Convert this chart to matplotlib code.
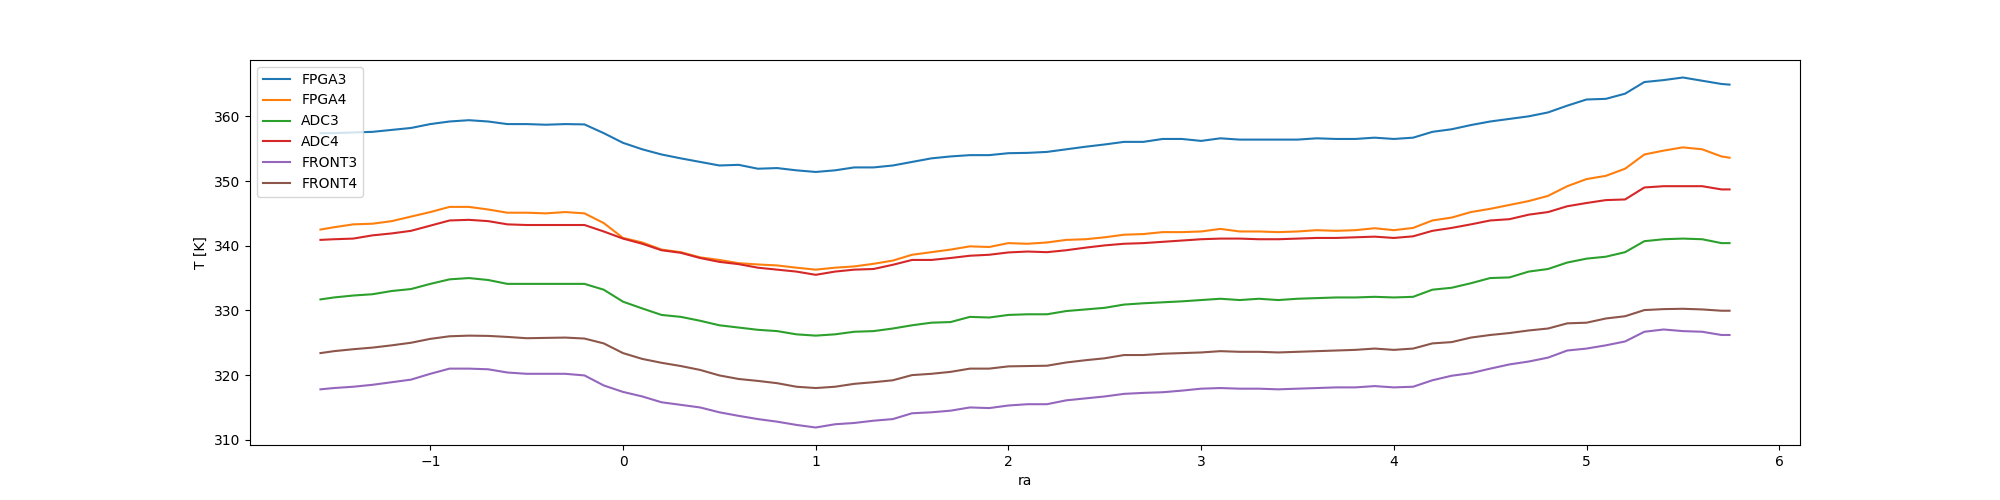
import numpy as np
import matplotlib
matplotlib.use("Agg")
import matplotlib.pyplot as plt

# sample positions along ra
ra = [-1.57, -1.5, -1.4, -1.3, -1.2, -1.1, -1.0, -0.9, -0.8, -0.7, -0.6, -0.5,
      -0.4, -0.3, -0.2, -0.1, 0.0, 0.1, 0.2, 0.3, 0.4, 0.5, 0.6, 0.7,
      0.8, 0.9, 1.0, 1.1, 1.2, 1.3, 1.4, 1.5, 1.6, 1.7, 1.8, 1.9, 2.0,
      2.1, 2.2, 2.3, 2.4, 2.5, 2.6, 2.7, 2.8, 2.9, 3.0, 3.1, 3.2,
      3.3, 3.4, 3.5, 3.6, 3.7, 3.8, 3.9, 4.0, 4.1, 4.2, 4.3, 4.4, 4.5,
      4.6, 4.7, 4.8, 4.9, 5.0, 5.1, 5.2, 5.3, 5.4, 5.5, 5.6, 5.7, 5.742]

fpga3 = [357.4, 357.4, 357.5, 357.6, 357.9, 358.2, 358.8, 359.2, 359.4, 359.2, 358.8, 358.8,
         358.7, 358.8, 358.75, 357.4, 355.9, 354.9, 354.1, 353.5, 352.95, 352.4, 352.5, 351.9,
         352.0, 351.65, 351.4, 351.65, 352.1, 352.1, 352.4, 352.95, 353.5, 353.8, 354.0, 354.0, 354.3,
         354.35, 354.5, 354.9, 355.3, 355.65, 356.05, 356.05, 356.5, 356.5, 356.2, 356.6, 356.4,
         356.4, 356.4, 356.4, 356.6, 356.5, 356.5, 356.7, 356.5, 356.7, 357.6, 358.0, 358.65, 359.2,
         359.6, 360.0, 360.6, 361.65, 362.6, 362.7, 363.5, 365.3, 365.6, 366.0, 365.5, 365.0, 364.9]

fpga4 = [342.5, 342.85, 343.3, 343.4, 343.8, 344.5, 345.2, 346.0, 346.0, 345.6, 345.1, 345.1,
         345.0, 345.2, 345.0, 343.5, 341.2, 340.5, 339.4, 339.0, 338.2, 337.8, 337.3, 337.1,
         336.95, 336.6, 336.3, 336.6, 336.8, 337.2, 337.7, 338.6, 339.0, 339.4, 339.9, 339.8, 340.4,
         340.3, 340.5, 340.9, 341.0, 341.3, 341.7, 341.8, 342.1, 342.1, 342.2, 342.6, 342.2,
         342.2, 342.1, 342.2, 342.4, 342.3, 342.4, 342.7, 342.4, 342.75, 343.9, 344.35, 345.2, 345.7,
         346.3, 346.9, 347.7, 349.2, 350.3, 350.8, 351.9, 354.1, 354.7, 355.2, 354.9, 353.8, 353.6]

adc3 = [331.7, 332.0, 332.3, 332.5, 333.0, 333.3, 334.1, 334.8, 335.0, 334.7, 334.1, 334.1,
        334.1, 334.1, 334.1, 333.2, 331.35, 330.3, 329.3, 329.0, 328.4, 327.7, 327.35, 327.0,
        326.8, 326.3, 326.1, 326.3, 326.7, 326.8, 327.2, 327.7, 328.1, 328.2, 329.0, 328.9, 329.3,
        329.4, 329.4, 329.9, 330.15, 330.4, 330.9, 331.1, 331.25, 331.4, 331.6, 331.8, 331.6,
        331.8, 331.6, 331.8, 331.9, 332.0, 332.0, 332.1, 332.0, 332.1, 333.2, 333.5, 334.2, 335.0,
        335.1, 336.0, 336.4, 337.4, 338.0, 338.3, 339.0, 340.7, 341.0, 341.1, 341.0, 340.4, 340.4]

adc4 = [340.9, 341.0, 341.1, 341.6, 341.9, 342.3, 343.1, 343.9, 344.0, 343.8, 343.3, 343.2,
        343.2, 343.2, 343.2, 342.2, 341.1, 340.3, 339.3, 338.9, 338.1, 337.5, 337.15, 336.6,
        336.3, 336.0, 335.5, 336.0, 336.3, 336.4, 337.05, 337.8, 337.8, 338.1, 338.45, 338.6, 338.96,
        339.1, 339.0, 339.3, 339.7, 340.05, 340.3, 340.4, 340.6, 340.8, 341.0, 341.1, 341.1,
        341.0, 341.0, 341.1, 341.2, 341.2, 341.3, 341.4, 341.2, 341.45, 342.3, 342.75, 343.3, 343.9,
        344.1, 344.8, 345.2, 346.1, 346.6, 347.05, 347.15, 349.0, 349.2, 349.2, 349.2, 348.7, 348.7]

front3 = [317.8, 318.0, 318.2, 318.5, 318.9, 319.3, 320.2, 321.0, 321.0, 320.9, 320.4, 320.2,
          320.2, 320.2, 319.95, 318.4, 317.4, 316.7, 315.8, 315.4, 315.0, 314.25, 313.7, 313.2,
          312.8, 312.3, 311.9, 312.4, 312.6, 312.95, 313.2, 314.1, 314.25, 314.5, 315.0, 314.9, 315.3,
          315.5, 315.5, 316.1, 316.4, 316.7, 317.1, 317.25, 317.35, 317.6, 317.9, 318.0, 317.9,
          317.9, 317.8, 317.9, 318.0, 318.1, 318.1, 318.3, 318.1, 318.2, 319.2, 319.9, 320.3, 321.0,
          321.65, 322.1, 322.7, 323.8, 324.1, 324.6, 325.2, 326.7, 327.05, 326.8, 326.7, 326.2, 326.2]

front4 = [323.4, 323.7, 324.0, 324.25, 324.6, 325.0, 325.6, 326.0, 326.1, 326.06, 325.9, 325.7,
          325.75, 325.8, 325.65, 324.9, 323.4, 322.5, 321.9, 321.4, 320.8, 319.95, 319.4, 319.1,
          318.75, 318.2, 318.0, 318.2, 318.65, 318.9, 319.2, 320.0, 320.2, 320.5, 321.0, 321.0, 321.35,
          321.4, 321.45, 321.95, 322.3, 322.6, 323.1, 323.1, 323.3, 323.4, 323.5, 323.7, 323.6,
          323.6, 323.5, 323.6, 323.7, 323.8, 323.9, 324.1, 323.9, 324.1, 324.9, 325.1, 325.8, 326.2,
          326.5, 326.9, 327.2, 328.0, 328.1, 328.75, 329.1, 330.05, 330.2, 330.25, 330.15, 329.95, 329.95]

series = [("FPGA3", fpga3), ("FPGA4", fpga4), ("ADC3", adc3),
          ("ADC4", adc4), ("FRONT3", front3), ("FRONT4", front4)]

fig, ax = plt.subplots(figsize=(20, 5), dpi=100)
for name, vals in series:
    ax.plot(ra, vals, label=name)

ax.set_xlabel("ra")
ax.set_ylabel("T [K]")
ax.legend(loc="upper left")

fig.savefig("out.png")
